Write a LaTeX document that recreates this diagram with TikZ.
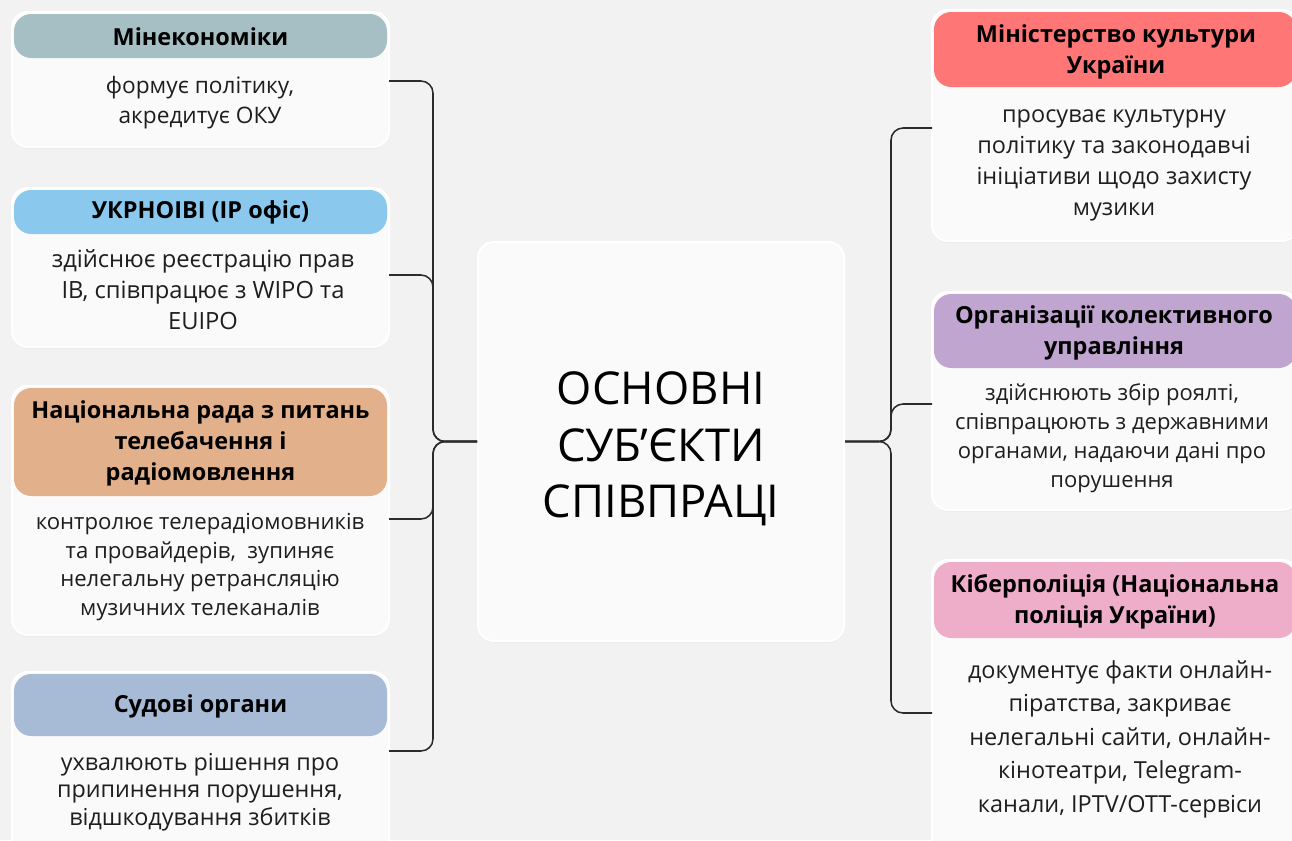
\documentclass[tikz,border=0pt]{standalone}
\usepackage{fontspec}
\setmainfont{Open Sans}
\usetikzlibrary{shadows,fit,calc}

\definecolor{pagebg}{HTML}{F2F2F2}
\definecolor{cardbg}{HTML}{FAFAFA}
\definecolor{linec}{HTML}{2B2B2B}
\definecolor{txt}{HTML}{1E1E1E}
\definecolor{hMin}{HTML}{A6BFC4}
\definecolor{hUkr}{HTML}{8AC8EE}
\definecolor{hRada}{HTML}{E3B08C}
\definecolor{hSud}{HTML}{A8BBD6}
\definecolor{hKult}{HTML}{FF7676}
\definecolor{hOrg}{HTML}{BFA5D0}
\definecolor{hKib}{HTML}{EEADC9}

\tikzset{
  card/.style={draw=white, line width=1.5pt, fill=cardbg, rounded corners=12pt,
    inner sep=0pt, drop shadow={opacity=0.10, shadow xshift=0pt, shadow yshift=-1.2pt}},
  hdr/.style={draw=none, rounded corners=13pt, inner sep=0pt},
  htext/.style={align=center, text=black, font=\bfseries\fontsize{17.6}{23}\selectfont},
  body/.style={align=center, text=txt, font=\fontsize{17}{22.5}\selectfont},
  conn/.style={draw=linec, line width=1.15pt, rounded corners=9pt},
}

\begin{document}
\begin{tikzpicture}[x=0.75pt,y=-0.75pt]
  \useasboundingbox (0,0) rectangle (1292,840);
  \fill[pagebg] (0,0) rectangle (1292,840);
  \clip (0,0) rectangle (1292,840);

  % ---- centre ----
  \node[card, fit={(478,242) (844,641)}] (ctr) {};
  \node[align=center, text=black, font=\fontsize{34}{42.5}\selectfont] (ctrt) at (661,449)
    {ОСНОВНІ\\СУБ’ЄКТИ\\СПІВПРАЦІ};

  % ---- left column ----
  \node[card, fit={(12,12) (389,147)}] (k1) {};
  \node[hdr, fill=hMin, fit={(14,14) (387,58)}] (h1) {};
  \node[htext] at ([yshift=-0.5pt]h1.center) {Мінекономіки};
  \node[body] (b1) at (200,103) {формує політику,\\акредитує ОКУ};

  \node[card, fit={(12,188) (389,347)}] (k2) {};
  \node[hdr, fill=hUkr, fit={(14,190) (387,234)}] (h2) {};
  \node[htext] at ([yshift=-0.5pt]h2.center) {УКРНОІВІ (IP офіс)};
  \node[body, font=\fontsize{17.8}{23.2}\selectfont] (b2) at (203,290)
    {здійснює реєстрацію прав\\ІВ, співпрацює з WIPO та\\EUIPO};

  \node[card, fit={(12,386) (389,635)}] (k3) {};
  \node[hdr, fill=hRada, fit={(14,388) (387,496)}] (h3) {};
  \node[htext] at ([yshift=-1pt]h3.center) {Національна рада з питань\\телебачення і\\радіомовлення};
  \node[body, font=\fontsize{16.6}{21.5}\selectfont] (b3) at (200,567)
    {контролює телерадіомовників\\та провайдерів,\ \ зупиняє\\нелегальну ретрансляцію\\музичних телеканалів};

  \node[card, fit={(12,672) (389,870)}] (k4) {};
  \node[hdr, fill=hSud, fit={(14,674) (387,736)}] (h4) {};
  \node[htext] at ([yshift=-1pt]h4.center) {Судові органи};
  \node[body, font=\fontsize{17.5}{20.8}\selectfont] (b4) at (200,792)
    {ухвалюють рішення про\\припинення порушення,\\відшкодування збитків};

  % ---- right column ----
  \node[card, fit={(932,10) (1298,241)}] (r1) {};
  \node[hdr, fill=hKult, fit={(934,12) (1296,87)}] (g1) {};
  \node[htext] at (1116,52) {Міністерство культури\\України};
  \node[body, font=\fontsize{17.6}{23.2}\selectfont] (c1) at (1114,165.5)
    {просуває культурну\\політику та законодавчі\\ініціативи щодо захисту\\музики};

  \node[card, fit={(932,292) (1298,510)}] (r2) {};
  \node[hdr, fill=hOrg, fit={(934,294) (1296,368)}] (g2) {};
  \node[htext] at (1114,333) {Організації колективного\\управління};
  \node[body, font=\fontsize{16.5}{21.7}\selectfont] (c2) at (1112,438)
    {здійснюють збір роялті,\\співпрацюють з державними\\органами, надаючи дані про\\порушення};

  \node[card, fit={(932,560) (1298,870)}] (r3) {};
  \node[hdr, fill=hKib, fit={(934,562) (1296,638)}] (g3) {};
  \node[htext] at (1115,601.5) {Кіберполіція (Національна\\поліція України)};
  \node[body, font=\fontsize{17.6}{25.1}\selectfont] (c3) at (1120,739)
    {документує факти онлайн-\\піратства, закриває\\нелегальні сайти, онлайн-\\кінотеатри, Telegram-\\канали, IPTV/OTT-сервіси};

  % ---- connector ports on the cards ----
  \coordinate (p1) at (389,81);
  \coordinate (p2) at (389,275);
  \coordinate (p3) at (389,519);
  \coordinate (p4) at (389,751);
  \coordinate (q1) at (932,128);
  \coordinate (q2) at (932,404);
  \coordinate (q3) at (932,713);

  % ---- connectors ----
  \foreach \p in {p1,p2,p3,p4}
    \draw[conn] (ctr.west) -| ($(\p)+(44,0)$) -- (\p);
  \foreach \q in {q1,q2,q3}
    \draw[conn] (ctr.east) -| ($(\q)+(-41,0)$) -- (\q);
\end{tikzpicture}
\end{document}
